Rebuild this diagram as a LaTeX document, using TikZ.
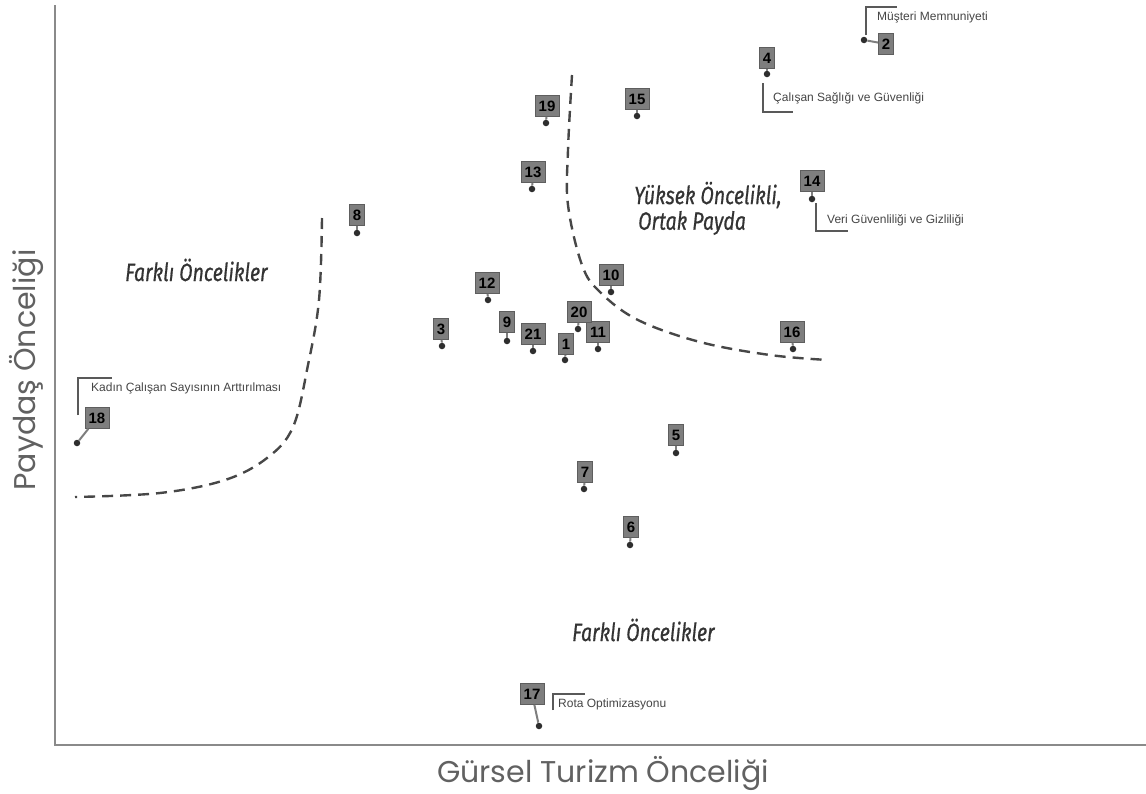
\documentclass[tikz,border=0pt]{standalone}
\usepackage{fontspec}
\setmainfont{Liberation Sans}
\newfontfamily\axisfont{Poppins}
\newfontfamily\zonefont[FakeStretch=0.78, ItalicFeatures={FakeBold=0.6}]{Fira Sans}
\usetikzlibrary{calc}
\definecolor{axisgray}{HTML}{8A8A8A}
\definecolor{boxgray}{HTML}{7E7E7E}
\definecolor{dotgray}{HTML}{2E2E2E}
\definecolor{notegray}{HTML}{454545}

\begin{document}
\begin{tikzpicture}[
    x=1pt, y=-1pt,
    numbox/.style={
        rectangle, fill=boxgray, draw=boxgray!75!black, line width=0.6pt,
        inner xsep=3.5pt, inner ysep=0pt, minimum width=15pt, minimum height=21pt,
        font=\fontsize{15}{15}\selectfont\bfseries
    },
    pin/.style={circle, fill=dotgray, inner sep=0pt, minimum size=6.5pt},
    tail/.style={draw=boxgray, line width=2pt},
    leader/.style={draw=black!65, line width=1.3pt},
    note/.style={font=\fontsize{12}{14}\selectfont, text=notegray, anchor=west, inner sep=0pt},
    zone/.style={font=\zonefont\fontsize{25}{28}\selectfont\itshape, text=black!80, align=left, inner sep=0pt},
    axisline/.style={draw=axisgray, line width=2.5pt},
    axislbl/.style={font=\axisfont\fontsize{30}{32}\selectfont, text=black!62, inner sep=0pt},
    zoneline/.style={draw=black!72, line width=2.4pt, dash pattern=on 11pt off 7pt}
]
\useasboundingbox (0,0) rectangle (1146,793);

% Axes
\coordinate (ytop) at (55,5);
\coordinate (origin) at (55,745);
\coordinate (xend) at (1146,745);
\draw[axisline] (ytop) -- (origin) -- (xend);
\node[axislbl] (xlbl) at (603,773) {Gürsel Turizm Önceliği};
\node[axislbl, rotate=90] (ylbl) at (26,370) {Paydaş Önceliği};

% Zone borders
\draw[zoneline] plot[smooth, tension=0.6] coordinates {
    (322,218) (319,300) (308,365) (293,427) (267,458) (225,480) (160,493) (75,497)};
\draw[zoneline] plot[smooth, tension=0.6] coordinates {
    (572,75) (568,150) (568,205) (582,265) (600,292) (638,320) (700,342) (770,355) (828,360)};

% Zone labels
\node[zone, anchor=west] (zleft) at (125,270) {Farklı Öncelikler};
\node[zone, anchor=west] (zbottom) at (572,630) {Farklı Öncelikler};
\node[zone, anchor=west] (ztop1) at (634,195) {Yüksek Öncelikli,};
\node[zone, anchor=west] (ztop2) at (638,223) {Ortak Payda};

% Numbered pins: number / dot x / dot y / box x / box y
\foreach \n/\dx/\dy/\bx/\by in {
    1/565/360/566/344, 2/864/40/886/44, 3/442/346/441/329, 4/767/74/767/58,
    5/676/453/676/435, 6/630/545/631/527, 7/584/489/585/472, 8/357/233/357/215,
    9/507/341/507/322, 10/611/292/611/275, 11/598/349/598/332, 12/488/300/487/283,
    13/532/189/533/172, 14/812/199/812/181, 15/637/116/637/99, 16/793/349/792/332,
    17/539/726/532/694, 18/77/443/97/418, 19/546/123/547/106, 20/578/329/579/312,
    21/533/351/533/334} {
    \node[pin] (p\n) at (\dx,\dy) {};
    \node[numbox] (n\n) at (\bx,\by) {\n};
    \draw[tail] (n\n) -- (p\n);
}

% Callouts
\node[note] (t2) at (877,17) {Müşteri Memnuniyeti};
\draw[leader] (p2) ++(2,-5) -- ++(0,-28) -- ++(31,0);
\node[note] (t4) at (773,98) {Çalışan Sağlığı ve Güvenliği};
\draw[leader] (p4) ++(-4,9) -- ++(0,29) -- ++(30,0);
\node[note] (t14) at (827,220) {Veri Güvenliliği ve Gizliliği};
\draw[leader] (p14) ++(4,4) -- ++(0,28) -- ++(32,0);
\node[note] (t18) at (91,388) {Kadın Çalışan Sayısının Arttırılması};
\draw[leader] (p18) ++(1,-28) -- ++(0,-37) -- ++(34,0);
\node[note] (t17) at (558,704) {Rota Optimizasyonu};
\draw[leader] (p17) ++(14,-16) -- ++(0,-16) -- ++(32,0);

\end{tikzpicture}
\end{document}
